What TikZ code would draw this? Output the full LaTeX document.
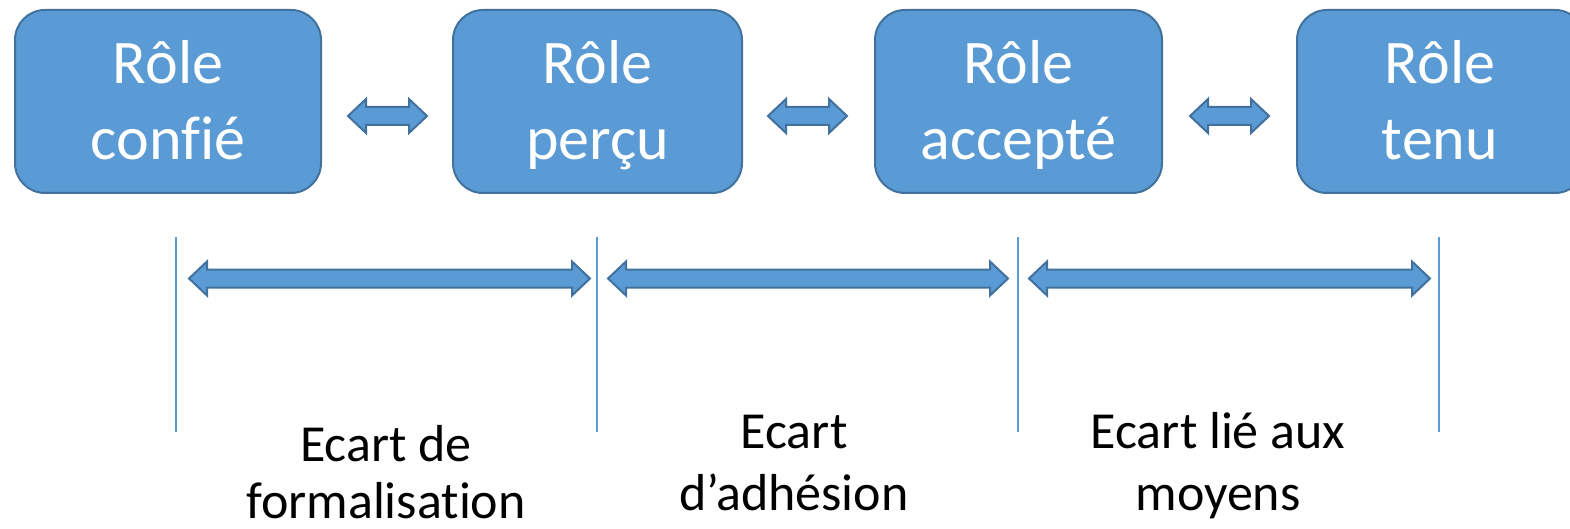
\documentclass[tikz,border=0pt]{standalone}
\usepackage{fontspec}
\setmainfont{Carlito}[RawFeature={-liga;-clig;-dlig}]
\definecolor{boxfill}{HTML}{5B9BD5}
\definecolor{boxline}{HTML}{41719C}
\newcommand\gapArrow[3]{%
  \draw[blockarr] (#1,#3) -- ({#1+18},{#3-17}) -- ({#1+18},{#3-9}) -- ({#2-18},{#3-9}) -- ({#2-18},{#3-17}) -- (#2,#3) -- ({#2-18},{#3+17}) -- ({#2-18},{#3+9}) -- ({#1+18},{#3+9}) -- ({#1+18},{#3+17}) -- cycle;}
\begin{document}
\begin{tikzpicture}[x=1pt,y=-1pt,
  rolebox/.style={draw=boxline, fill=boxfill, line width=2pt, rounded corners=30pt, inner sep=0pt, minimum height=183pt},
  blockarr/.style={draw=boxline, fill=boxfill, line width=2pt, line join=miter},
  roletext/.style={text=white, font=\fontsize{62}{76}\selectfont, inner sep=0pt, anchor=base},
  gaptext/.style={text=black, font=\fontsize{52}{62}\selectfont, inner sep=0pt, anchor=base},
  sepline/.style={draw=boxfill, line width=1.5pt}]
\useasboundingbox (0,0) rectangle (1570,529);
\clip (0,0) rectangle (1570,529);
% boxes
\node[rolebox, minimum width=306pt] (b1) at (168,101.5) {};
\node[rolebox, minimum width=289pt] (b2) at (597.5,101.5) {};
\node[rolebox, minimum width=287pt] (b3) at (1018.5,101.5) {};
\node[rolebox, minimum width=288pt] (b4) at (1441,101.5) {};
% box texts
\node[roletext] (t1a) at (168,84) {Rôle};
\node[roletext] (t1b) at (168,160) {confié};
\node[roletext] (t2a) at (597.5,84) {Rôle};
\node[roletext] (t2b) at (597.5,160) {perçu};
\node[roletext] (t3a) at (1018.5,84) {Rôle};
\node[roletext] (t3b) at (1018.5,160) {accepté};
\node[roletext] (t4a) at (1440,84) {Rôle};
\node[roletext] (t4b) at (1440,160) {tenu};
% small arrows
\gapArrow{348}{427}{116}
\gapArrow{768}{847}{116}
\gapArrow{1190}{1269}{116}
% separators
\draw[sepline] (176,237) -- (176,432);
\draw[sepline] (597,237) -- (597,432);
\draw[sepline] (1018,237) -- (1018,432);
\draw[sepline] (1439,237) -- (1439,432);
% long arrows
\gapArrow{189}{590}{278.5}
\gapArrow{608}{1008}{278.5}
\gapArrow{1029}{1430}{278.5}
% labels
\node[gaptext] (l1a) at (386,461) {Ecart de};
\node[gaptext] (l1b) at (386,518) {formalisation};
\node[gaptext] (l2a) at (794,448) {Ecart};
\node[gaptext] (l2b) at (794,510) {d’adhésion};
\node[gaptext] (l3a) at (1218,448) {Ecart lié aux};
\node[gaptext] (l3b) at (1218,510) {moyens};
\end{tikzpicture}
\end{document}
